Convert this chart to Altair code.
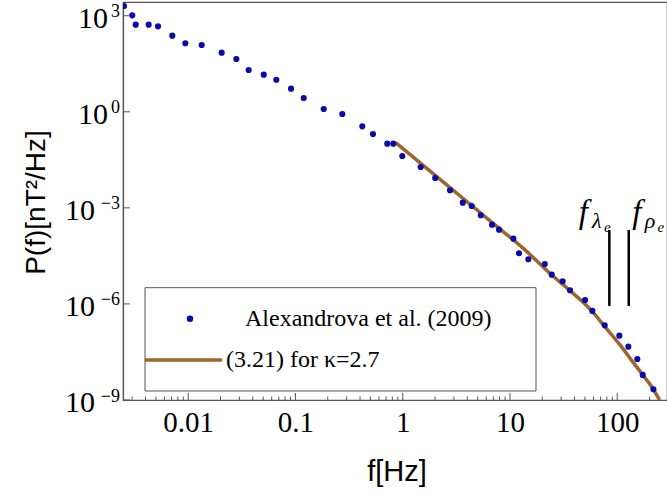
import altair as alt
import pandas as pd

# ---- data ----
freq = [0.00252, 0.00301, 0.00324, 0.00428, 0.00523, 0.00711, 0.00940, 0.01335, 0.0205, 0.0281,
        0.0366, 0.0506, 0.0663, 0.0909, 0.1194, 0.1834, 0.2733, 0.420, 0.528, 0.718,
        0.817, 0.991, 1.47, 2.01, 2.76, 3.63, 4.40, 5.34, 6.80, 7.91,
        10.75, 12.14, 14.83, 21.1, 24.5, 31.0, 36.3, 50.1, 58.6, 76.4,
        104.6, 126.9, 153.9, 172.9, 217.3]
power = [2010, 1030, 524, 524, 467, 238, 138, 122, 70, 44.5,
         20.2, 14.4, 10.0, 5.26, 2.70, 1.22, 0.854, 0.352, 0.203, 0.1009,
         0.1009, 0.0417, 0.0189, 0.00857, 0.00354, 0.00145, 0.001146, 5.87e-4, 2.99e-4, 2.08e-4,
         1.09e-4, 3.82e-5, 2.48e-5, 1.77e-5, 8.2e-6, 5.1e-6, 2.67e-6, 1.33e-6, 6.04e-7, 2.16e-7,
         1.02e-7, 4.64e-8, 1.91e-8, 6.07e-9, 2.17e-9]

fit_freq = [0.860, 2.76, 8.08, 13.3, 24.5, 36.3, 57.9, 77.0, 106.2, 137.4, 173, 217, 248]
fit_power = [0.1084, 4.27e-3, 2.18e-4, 5.43e-5, 8.03e-6, 2.60e-6, 6.04e-7, 1.91e-7, 5.24e-8,
             1.66e-8, 6.07e-9, 2.17e-9, 1e-9]

marker_freq = [84.4, 128.0]
marker_sub = ["λ", "ρ"]
marker_top = 2.04e-4
marker_bottom = 8.65e-7

x_major = [0.01, 0.1, 1, 10, 100]
minor_mult = [2, 3, 4, 5, 6, 7, 8, 9]
decades = [0.001, 0.01, 0.1, 1, 10, 100]
y_major = [1e3, 1, 1e-3, 1e-6, 1e-9]
y_exp = ["3", "0", "−3", "−6", "−9"]
y_neg = [False, False, True, True, True]

legend_labels = ["Alexandrova et al. (2009)", "(3.21) for κ=2.7"]

x_title = "f[Hz]"
y_title = "P(f)[nT²/Hz]"

# ---- style ----
X_DOMAIN = [0.002466, 291]
Y_DOMAIN = [1e-9, 2680]
W, H = 544, 398
DOT = "#0a0aaa"
BROWN = "#9c6530"
FRAME = "#555555"
SERIF = "Liberation Serif"
SANS = "Liberation Sans"

xs = alt.Scale(type="log", domain=X_DOMAIN, nice=False)
ys = alt.Scale(type="log", domain=Y_DOMAIN, nice=False)

df_pts = pd.DataFrame({"f": freq, "P": power})
df_fit = pd.DataFrame({"f": fit_freq, "P": fit_power})
df_mk = pd.DataFrame({"f": marker_freq, "top": [marker_top] * 2, "bot": [marker_bottom] * 2,
                      "sub": marker_sub, "idx": [0, 1]})
minor = [d * m for d in decades for m in minor_mult if X_DOMAIN[0] <= d * m <= X_DOMAIN[1]]
df_xmaj = pd.DataFrame({"f": x_major})
df_xmin = pd.DataFrame({"f": minor})
df_y = pd.DataFrame({"P": y_major, "exp": y_exp, "neg": y_neg})
one = pd.DataFrame({"a": [0]})

xaxis = alt.Axis(values=x_major, format=".2~f", grid=False, ticks=False, domain=True,
                 domainColor=FRAME, domainWidth=1.2, labelFont=SERIF, labelFontSize=29,
                 labelColor="black", labelPadding=8, labelFlush=False, labelOverlap=False,
                 title="")
yaxis = alt.Axis(values=y_major, labels=False, ticks=False, grid=False, domain=True,
                 domainColor=FRAME, domainWidth=1.2, title=y_title, titleFont=SANS,
                 titleFontSize=28, titleFontWeight="normal", titleColor="black",
                 titleAngle=-90, titleX=-87, titleY=200, titleAlign="center",
                 titleBaseline="middle")


def X(field="f"):
    return alt.X(f"{field}:Q", scale=xs, axis=xaxis, title="")


def Y(field="P"):
    return alt.Y(f"{field}:Q", scale=ys, axis=yaxis, title=y_title)


fit = alt.Chart(df_fit).mark_line(color=BROWN, strokeWidth=3.5, interpolate="monotone",
                                  clip=True).encode(x=X(), y=Y())
pts = alt.Chart(df_pts).mark_circle(color=DOT, size=38, opacity=1, clip=True).encode(
    x=X(), y=Y())
markers = alt.Chart(df_mk).mark_rule(color="black", strokeWidth=2.5).encode(
    x=X(), y=Y("top"), y2="bot:Q")


def mk_text(i, dx, dy, size, text=None, field=None):
    enc = dict(x=X(), y=Y("top"))
    if field:
        enc["text"] = alt.Text(f"{field}:N")
    kw = dict(font=SERIF, fontSize=size, fontStyle="italic", align="center",
              baseline="middle", dx=dx, dy=dy, color="black")
    if text:
        kw["text"] = text
    return alt.Chart(df_mk).transform_filter(alt.datum.idx == i).mark_text(**kw).encode(**enc)


labels = [
    mk_text(0, -26, -17, 33, text="f"),
    mk_text(0, -12.6, -9, 22, field="sub"),
    mk_text(0, -2, -3, 15, text="e"),
    mk_text(1, 8, -17, 33, text="f"),
    mk_text(1, 21.3, -9, 22, field="sub"),
    mk_text(1, 32, -3, 15, text="e"),
]

xmaj = alt.Chart(df_xmaj).mark_rule(color=FRAME, strokeWidth=1).encode(
    x=X(), y=alt.value(H), y2=alt.value(H - 7))
xmin = alt.Chart(df_xmin).mark_rule(color=FRAME, strokeWidth=1).encode(
    x=X(), y=alt.value(H), y2=alt.value(H - 3.5))
ymaj = alt.Chart(df_y).mark_rule(color=FRAME, strokeWidth=1).encode(
    y=Y(), x=alt.value(0), x2=alt.value(7))

ybase_pos = alt.Chart(df_y).transform_filter("!datum.neg").mark_text(
    text="10", font=SERIF, fontSize=30, align="right", baseline="alphabetic", dy=12,
    color="black").encode(y=Y(), x=alt.value(-15))
ybase_neg = alt.Chart(df_y).transform_filter("datum.neg").mark_text(
    text="10", font=SERIF, fontSize=30, align="right", baseline="alphabetic", dy=12,
    color="black").encode(y=Y(), x=alt.value(-28))
yexp = alt.Chart(df_y).mark_text(
    font=SERIF, fontSize=18, align="right", baseline="alphabetic", dy=1.5,
    color="black").encode(y=Y(), x=alt.value(-3), text="exp:N")

xtitle = alt.Chart(one).mark_text(text=x_title, font=SANS, fontSize=29, align="center",
                                  baseline="middle", color="black").encode(
    x=alt.value(274), y=alt.value(470))

# manual legend
leg_box = alt.Chart(one).mark_rect(fill="white", stroke=FRAME, strokeWidth=1).encode(
    x=alt.value(22), x2=alt.value(413), y=alt.value(285.7), y2=alt.value(389))
leg_dot = alt.Chart(one).mark_circle(color=DOT, size=42, opacity=1).encode(
    x=alt.value(67), y=alt.value(316.7))
leg_line = alt.Chart(one).mark_rule(color=BROWN, strokeWidth=3.5).encode(
    x=alt.value(22), x2=alt.value(99), y=alt.value(358))
leg_t1 = alt.Chart(one).mark_text(text=legend_labels[0], font=SERIF, fontSize=24, align="left",
                                  baseline="middle", color="black").encode(
    x=alt.value(122), y=alt.value(317))
leg_t2 = alt.Chart(one).mark_text(text=legend_labels[1], font=SERIF, fontSize=24, align="left",
                                  baseline="middle", color="black").encode(
    x=alt.value(103), y=alt.value(358))

chart = alt.layer(
    fit, pts, markers, *labels, xmaj, xmin, ymaj, ybase_pos, ybase_neg, yexp, xtitle,
    leg_box, leg_dot, leg_line, leg_t1, leg_t2
).resolve_scale(x="shared", y="shared").properties(
    width=W, height=H,
    background="white",
    autosize=alt.AutoSizeParams(type="none"),
    padding={"left": 123, "top": 2, "right": 0, "bottom": 93},
).configure_view(stroke=FRAME, strokeWidth=1.2)

chart.save("out.html", embed_options={"renderer": "svg", "actions": False})
